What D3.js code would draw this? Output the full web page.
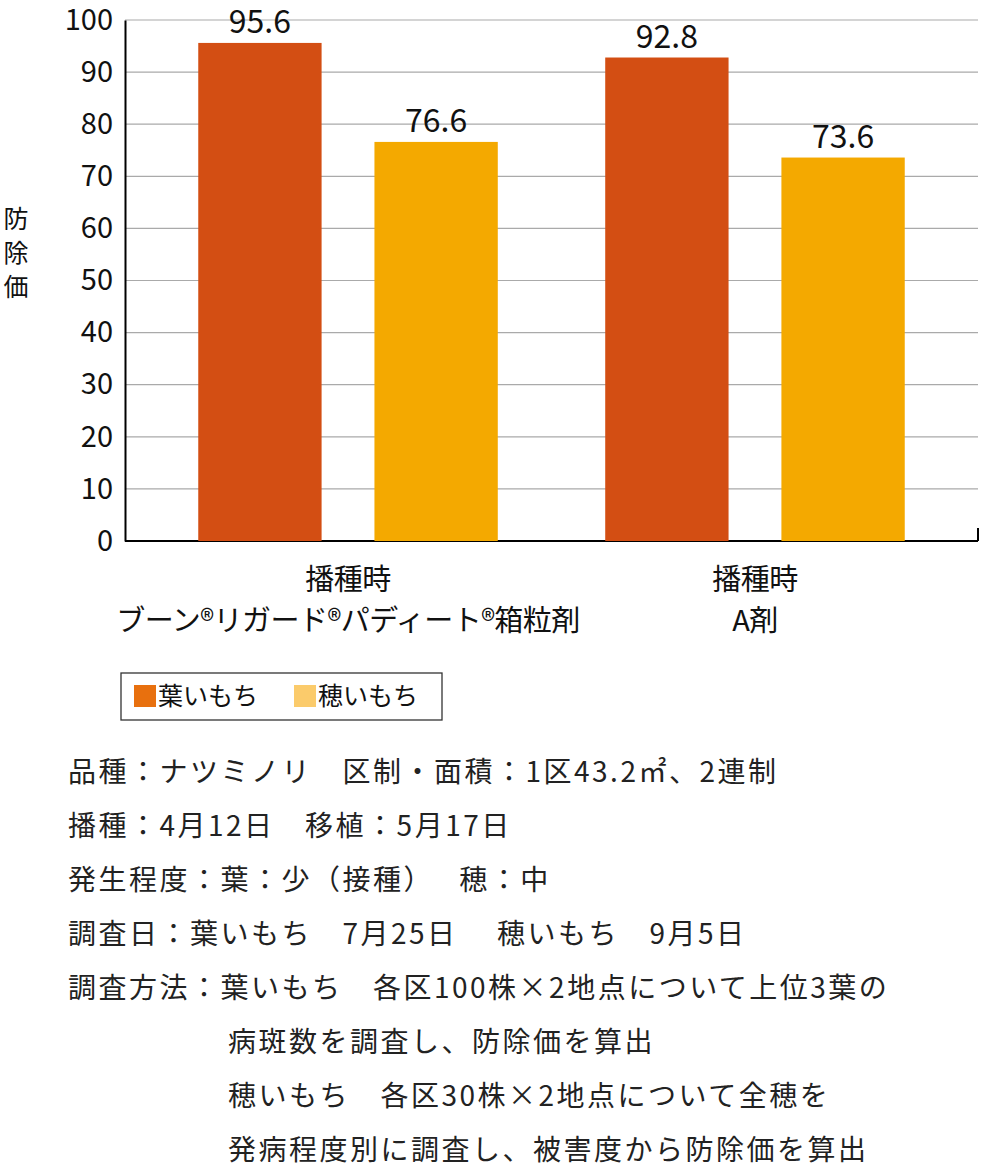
<!DOCTYPE html><html><head><meta charset="utf-8">
<script src="https://cdn.jsdelivr.net/npm/d3@7"></script>
<style>body{margin:0;background:#fff}text{font-family:"Noto Sans CJK JP","Noto Sans",sans-serif}</style></head><body>
<svg id="c" width="982" height="1164"></svg>
<script>
const categories=[["播種時","ブーン®リガード®パディート®箱粒剤"],["播種時","A剤"]];
const seriesNames=["葉いもち","穂いもち"];
const leafValues=[95.6,92.8];
const earValues=[76.6,73.6];
const yTicks=[0,10,20,30,40,50,60,70,80,90,100];
const notes=[
 ["品種：ナツミノリ　区制・面積：1区43.2㎡、2連制",68],
 ["播種：4月12日　移植：5月17日",68],
 ["発生程度：葉：少（接種）　 穂：中",68],
 ["調査日：葉いもち　7月25日　 穂いもち　9月5日",68],
 ["調査方法：葉いもち　各区100株×2地点について上位3葉の",68],
 ["病斑数を調査し、防除価を算出",228],
 ["穂いもち　各区30株×2地点について全穂を",228],
 ["発病程度別に調査し、被害度から防除価を算出",228]];
const barColors=["#d34e13","#f4a900"], legColors=["#e8700e","#fbcb6b"];
const svg=d3.select("#c");
const L=125,R=978,T=20,B=541;
const y=d3.scaleLinear().domain([0,100]).range([B,T]);
const x0=d3.scaleBand().domain([0,1]).range([L,R]).paddingInner(0.264).paddingOuter(0.18);
const x1=d3.scaleBand().domain([0,1]).range([0,x0.bandwidth()]).paddingInner(0.3).paddingOuter(0);
svg.append("g").selectAll("line").data(yTicks.slice(1)).join("line")
 .attr("x1",L).attr("x2",R).attr("y1",d=>y(d)).attr("y2",d=>y(d)).attr("stroke","#aaa").attr("stroke-width",1.2);
const ax=svg.append("g").attr("transform",`translate(${L},0)`).call(d3.axisLeft(y).tickValues(yTicks).tickSize(0).tickPadding(12));
ax.select(".domain").attr("stroke","#000").attr("stroke-width",2);
ax.selectAll("text").attr("font-size",29).attr("font-family","Roboto,sans-serif").attr("fill","#111");
svg.append("line").attr("x1",L).attr("x2",R).attr("y1",B).attr("y2",B).attr("stroke","#000").attr("stroke-width",2);
svg.append("line").attr("x1",R).attr("x2",R).attr("y1",B-13).attr("y2",B).attr("stroke","#000").attr("stroke-width",2);
[leafValues,earValues].forEach((vals,s)=>{
 const g=svg.append("g");
 g.selectAll("rect").data(vals).join("rect")
  .attr("x",(d,i)=>x0(i)+x1(s)).attr("width",x1.bandwidth()).attr("y",d=>y(d)).attr("height",d=>B-y(d)).attr("fill",barColors[s]);
 g.selectAll("text").data(vals).join("text")
  .attr("x",(d,i)=>x0(i)+x1(s)+x1.bandwidth()/2).attr("y",d=>Math.max(y(d)-10,32)).attr("text-anchor","middle")
  .attr("font-size",32).attr("font-family","Roboto,sans-serif").attr("fill","#111").text(d=>d.toFixed(1));
});
categories.forEach((c,i)=>{
 c.forEach((t,j)=>svg.append("text").attr("x",x0(i)+x0.bandwidth()/2).attr("y",590+j*41).attr("text-anchor","middle")
  .attr("font-size",29).attr("fill","#111").attr("letter-spacing",-0.5).text(t));
});
const yl=svg.append("text").attr("font-size",25).attr("fill","#111").attr("text-anchor","middle");
["防","除","価"].forEach((ch,i)=>yl.append("tspan").attr("x",16).attr("y",228+i*34).text(ch));
svg.append("rect").attr("x",121).attr("y",673).attr("width",321).attr("height",47).attr("fill","none").attr("stroke","#333").attr("stroke-width",1.3);
seriesNames.forEach((n,i)=>{
 const lx=134+i*160;
 svg.append("rect").attr("x",lx).attr("y",685).attr("width",22).attr("height",22).attr("fill",legColors[i]);
 svg.append("text").attr("x",lx+24).attr("y",705).attr("font-size",25).attr("fill","#111").text(n);
});
notes.forEach((n,i)=>svg.append("text").attr("x",n[1]).attr("y",782+i*54).attr("font-size",28).attr("letter-spacing",2.5).attr("fill","#222").text(n[0]));
</script></body></html>
